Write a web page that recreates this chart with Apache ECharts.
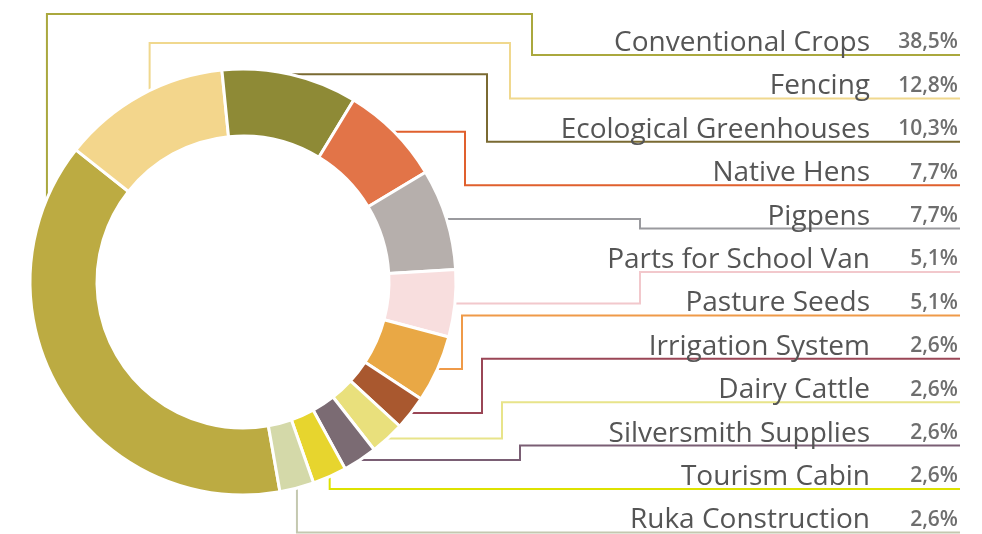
<!DOCTYPE html>
<html>
<head>
<meta charset="utf-8">
<script src="https://cdn.jsdelivr.net/npm/echarts@6/dist/echarts.min.js"></script>
<style>
  html, body { margin: 0; padding: 0; background: #fff; }
  #chart { width: 982px; height: 534px; }
</style>
</head>
<body>
<div id="chart"></div>
<script>
// Investment shares, in label order (top to bottom)
const categories = [
  'Conventional Crops', 'Fencing', 'Ecological Greenhouses', 'Native Hens',
  'Pigpens', 'Parts for School Van', 'Pasture Seeds', 'Irrigation System',
  'Dairy Cattle', 'Silversmith Supplies', 'Tourism Cabin', 'Ruka Construction'
];
const shares = [38.5, 12.8, 10.3, 7.7, 7.7, 5.1, 5.1, 2.6, 2.6, 2.6, 2.6, 2.6];

const sliceColors = [
  '#bcab42', '#f3d68c', '#8e8a36', '#e27448', '#b6afac', '#f8dede',
  '#e9a845', '#a9582f', '#e9e07c', '#7b6b73', '#e7d52e', '#d4d9a9'
];
const lineColors = [
  '#aaa83e', '#f0d88e', '#7a6a32', '#e0602e', '#9a9a9e', '#f2c8cc',
  '#ef9a48', '#9a4656', '#e8e48a', '#7a5e74', '#dde200', '#c4c8b0'
];

// ring geometry
const CX = 243, CY = 282, R_IN = 146, R_OUT = 213;
const RIGHT = 960, ROW_TOP = 55, ROW_STEP = 43.4;

// how each guide line is routed to its label row
const guides = [
  { angle: 293, over: 14, turn: 532 },
  { angle: 334, over: 43, turn: 510 },
  { turn: 487 },
  { turn: 465 },
  { turn: 640 },
  { turn: 640 },
  { turn: 462 },
  { turn: 482 },
  { turn: 502 },
  { turn: 520 },
  { down: true },
  { down: true }
];

function formatShare(v) {
  return v.toFixed(1).replace('.', ',') + '%';
}

function guidePoints(i, start, rowY) {
  const g = guides[i];
  if (g.angle != null) {
    const a = g.angle * Math.PI / 180;
    const sx = CX + R_OUT * Math.sin(a);
    const sy = CY - R_OUT * Math.cos(a);
    return [[sx, sy], [sx, g.over], [g.turn, g.over], [g.turn, rowY], [RIGHT, rowY]];
  }
  if (g.down) {
    return [start, [start[0], rowY], [RIGHT, rowY]];
  }
  return [start, [g.turn, start[1]], [g.turn, rowY], [RIGHT, rowY]];
}

const chart = echarts.init(document.getElementById('chart'));

chart.setOption({
  animation: false,
  backgroundColor: '#ffffff',
  series: [{
    type: 'pie',
    center: [CX, CY],
    radius: [R_IN, R_OUT],
    startAngle: -80,
    clockwise: true,
    avoidLabelOverlap: false,
    itemStyle: { borderColor: '#ffffff', borderWidth: 3 },
    label: {
      show: true,
      position: 'outside',
      formatter: (p) => `{n|${p.name}}{p|${formatShare(p.value)}}`,
      rich: {
        n: {
          fontFamily: 'Open Sans', fontSize: 28, color: '#555555',
          verticalAlign: 'bottom', lineHeight: 32
        },
        p: {
          fontFamily: 'Open Sans', fontSize: 21, fontWeight: 600, color: '#6e6e6e',
          width: 88, align: 'right', verticalAlign: 'bottom', lineHeight: 32,
          padding: [0, 0, 4, 0]
        }
      }
    },
    labelLine: { show: true, length: 10, length2: 10, smooth: false, lineStyle: { width: 2 } },
    labelLayout: (params) => {
      const i = params.dataIndex;
      const rowY = ROW_TOP + i * ROW_STEP;
      const start = params.labelLinePoints ? params.labelLinePoints[0] : [CX, CY];
      return {
        x: RIGHT - 2,
        y: rowY + 2,
        align: 'right',
        verticalAlign: 'bottom',
        labelLinePoints: guidePoints(i, start, rowY)
      };
    },
    data: categories.map((name, i) => ({
      name: name,
      value: shares[i],
      itemStyle: { color: sliceColors[i] },
      labelLine: { lineStyle: { color: lineColors[i] } }
    }))
  }]
});
</script>
</body>
</html>
